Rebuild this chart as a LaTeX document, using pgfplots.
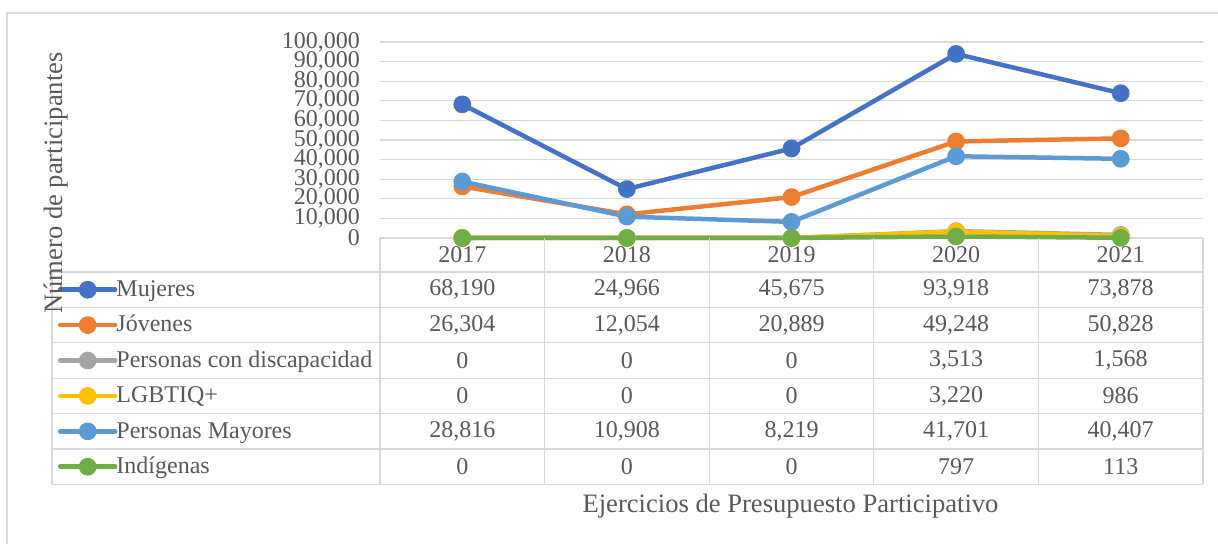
\documentclass[border=0pt]{standalone}
\usepackage{pgfplots}
\pgfplotsset{compat=1.18}
\usepackage{fontspec}
\setmainfont{Liberation Serif}
\definecolor{cMuj}{HTML}{4472C4}
\definecolor{cJov}{HTML}{ED7D31}
\definecolor{cDis}{HTML}{A5A5A5}
\definecolor{cLgb}{HTML}{FFC000}
\definecolor{cMay}{HTML}{5B9BD5}
\definecolor{cInd}{HTML}{70AD47}
\definecolor{txt}{HTML}{595959}
\definecolor{gridc}{HTML}{D9D9D9}
\newcommand\f{\fontsize{24bp}{28bp}\selectfont}
\newcommand\ft{\fontsize{26.6bp}{31bp}\selectfont}

\pgfplotstableread{
x y
0 68190
1 24966
2 45675
3 93918
4 73878
}\tMuj
\pgfplotstableread{
x y
0 26304
1 12054
2 20889
3 49248
4 50828
}\tJov
\pgfplotstableread{
x y
0 0
1 0
2 0
3 3513
4 1568
}\tDis
\pgfplotstableread{
x y
0 0
1 0
2 0
3 3220
4 986
}\tLgb
\pgfplotstableread{
x y
0 28816
1 10908
2 8219
3 41701
4 40407
}\tMay
\pgfplotstableread{
x y
0 0
1 0
2 0
3 797
4 113
}\tInd

\newcommand\cell[3]{\node[text=txt] at ({380+164.6*(#1+0.5)},{272+35.4*(#2+0.5)}) {#3};}

\begin{document}
\begin{tikzpicture}[font=\f]
\useasboundingbox (0,0) rectangle (1218bp,544bp);
% outer frame
\begin{scope}[x=1bp, y=-1bp, shift={(0bp,544bp)}]
  \draw[gridc, line width=1.3bp] (7,560) -- (7,13) -- (1230,13);
\end{scope}
\begin{axis}[
  at={(380bp,306bp)}, anchor=south west,
  scale only axis, width=823bp, height=196bp,
  xmin=-0.5, xmax=4.5, ymin=0, ymax=100000,
  xtick={0,1,2,3,4}, xticklabels={2017,2018,2019,2020,2021},
  ytick={0,10000,20000,30000,40000,50000,60000,70000,80000,90000,100000},
  major tick length=0pt,
  axis line style={draw=none},
  ymajorgrids, major grid style={draw=gridc, line width=1.3bp},
  scaled y ticks=false,
  /pgf/number format/.cd, fixed, 1000 sep={,}, assume math mode=true, /pgfplots/.cd,
  tick label style={font=\f, text=txt},
  yticklabel style={anchor=east, inner sep=0pt, xshift=-20bp},
  xticklabel style={anchor=center, inner sep=0pt, yshift=-17bp},
  every axis plot/.append style={line width=4.5bp, line join=round, mark=*, mark size=6.6bp,
     mark options={solid, line width=1bp}},
  legend image code/.code={\draw[mark repeat=2, mark phase=2, line cap=round, #1] plot coordinates {(0bp,0bp) (27.5bp,0bp) (55bp,0bp)};},
  legend cell align=left,
  legend style={at={(-0.3913,-0.1735)}, anchor=north west, draw=none, fill=none,
     inner sep=0pt, outer sep=0pt, row sep=0pt, column sep=-1bp, font=\f, text=txt,
     nodes={inner sep=0pt, text height=24.5bp, text depth=10.9bp}},
  clip=false,
]
\addplot[color=cMuj, mark options={fill=cMuj}] table {\tMuj};
\addlegendentry{Mujeres}
\addplot[color=cJov, mark options={fill=cJov}] table {\tJov};
\addlegendentry{Jóvenes}
\addplot[color=cDis, mark options={fill=cDis}] table {\tDis};
\addlegendentry{Personas con discapacidad}
\addplot[color=cLgb, mark options={fill=cLgb}] table {\tLgb};
\addlegendentry{LGBTIQ+}
\addplot[color=cMay, mark options={fill=cMay}] table {\tMay};
\addlegendentry{Personas Mayores}
\addplot[color=cInd, mark options={fill=cInd}] table {\tInd};
\addlegendentry{Indígenas}
\end{axis}
\begin{scope}[x=1bp, y=-1bp, shift={(0bp,544bp)}]
  \foreach \xx in {380,544.6,709.2,873.8,1038.4,1203}
    \draw[gridc, line width=1.3bp] (\xx,238) -- (\xx,484.4);
  \draw[gridc, line width=1.3bp] (52,272) -- (52,484.4);
  \foreach \yy in {272,307.4,342.8,378.2,413.6,449,484.4}
    \draw[gridc, line width=1.3bp] (52,\yy) -- (1203,\yy);
  \cell{0}{0}{68,190}\cell{1}{0}{24,966}\cell{2}{0}{45,675}\cell{3}{0}{93,918}\cell{4}{0}{73,878}
  \cell{0}{1}{26,304}\cell{1}{1}{12,054}\cell{2}{1}{20,889}\cell{3}{1}{49,248}\cell{4}{1}{50,828}
  \cell{0}{2}{0}\cell{1}{2}{0}\cell{2}{2}{0}\cell{3}{2}{3,513}\cell{4}{2}{1,568}
  \cell{0}{3}{0}\cell{1}{3}{0}\cell{2}{3}{0}\cell{3}{3}{3,220}\cell{4}{3}{986}
  \cell{0}{4}{28,816}\cell{1}{4}{10,908}\cell{2}{4}{8,219}\cell{3}{4}{41,701}\cell{4}{4}{40,407}
  \cell{0}{5}{0}\cell{1}{5}{0}\cell{2}{5}{0}\cell{3}{5}{797}\cell{4}{5}{113}
  \node[text=txt, font=\ft] at (790.5,506) {Ejercicios de Presupuesto Participativo};
  \node[text=txt, font=\ft, rotate=90] at (56,183) {Número de participantes};
\end{scope}
\end{tikzpicture}
\end{document}
